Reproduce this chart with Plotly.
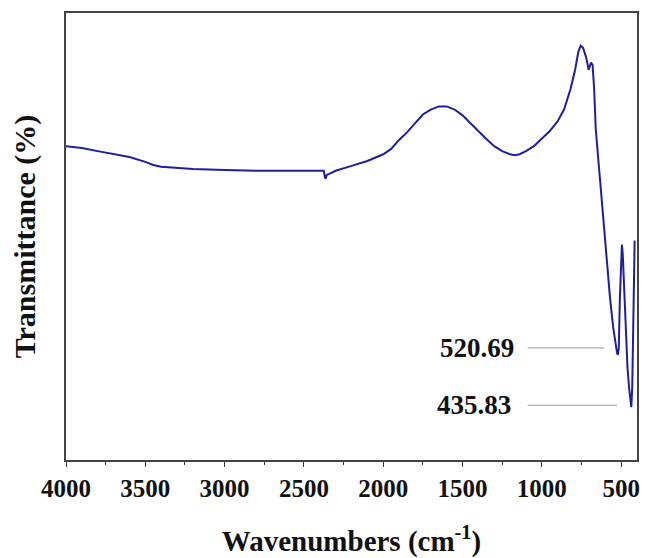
import plotly.graph_objects as go

wavenumber = [4000, 3900, 3800, 3700, 3600, 3500, 3450, 3400, 3300, 3200, 3000, 2800, 2600,
              2400, 2375, 2365, 2355, 2340, 2300, 2200, 2100, 2000, 1950, 1900, 1850, 1800,
              1750, 1700, 1650, 1600, 1550, 1500, 1450, 1400, 1350, 1300, 1250, 1200, 1170,
              1140, 1100, 1050, 1000, 950, 900, 860, 820, 790, 770, 755, 740, 720, 705, 690,
              680, 670, 660, 650, 630, 610, 590, 570, 550, 535, 525, 520, 515, 508, 500, 495,
              490, 480, 470, 460, 450, 440, 436, 430, 425, 420, 415, 410]
transmittance = [70.2, 69.8, 69.1, 68.4, 67.8, 66.7, 66.0, 65.6, 65.3, 65.1, 64.9, 64.7, 64.7,
                 64.7, 64.7, 62.9, 63.8, 64.0, 64.7, 65.8, 66.9, 68.4, 69.6, 71.6, 73.3, 75.3,
                 77.3, 78.4, 79.1, 79.1, 78.4, 77.1, 75.3, 73.6, 71.8, 70.2, 69.1, 68.4, 68.2,
                 68.4, 69.1, 70.2, 71.8, 73.6, 75.8, 78.4, 82.9, 87.3, 91.3, 92.7, 92.2, 90.0,
                 87.3, 88.9, 88.4, 82.9, 74.0, 69.6, 62.9, 54.0, 44.0, 36.2, 29.6, 25.6, 23.8,
                 23.6, 25.1, 36.2, 46.2, 48.2, 46.2, 36.2, 27.3, 20.7, 16.2, 12.9, 11.8, 16.2,
                 29.6, 45.1, 48.9, 48.9]

peak_labels = ["520.69", "435.83"]
peak_label_x = [1164, 1183]
peak_label_y = [25.1, 12.2]
peak_line_x0 = [1089, 1089]
peak_line_x1 = [606, 525]

tick_vals = [4000, 3500, 3000, 2500, 2000, 1500, 1000, 500]
tick_text = ["<b>%d</b>" % v for v in tick_vals]

FONT = "Liberation Serif"

fig = go.Figure()
fig.add_trace(go.Scatter(x=wavenumber, y=transmittance, mode="lines",
                         line=dict(color="#1f1f9c", width=2), showlegend=False))

for lab, lx, ly, x0, x1 in zip(peak_labels, peak_label_x, peak_label_y, peak_line_x0, peak_line_x1):
    fig.add_annotation(x=lx, y=ly, text="<b>%s</b>" % lab, showarrow=False, xanchor="right",
                       yanchor="middle", font=dict(family=FONT, size=27, color="#111"))
    fig.add_shape(type="line", x0=x0, x1=x1, y0=ly, y1=ly, xref="x", yref="y",
                  line=dict(color="#b0b0b0", width=1.2))

fig.update_layout(
    width=646, height=558,
    margin=dict(l=66, r=6, t=13, b=95),
    paper_bgcolor="white", plot_bgcolor="white",
    font=dict(family=FONT, color="#111"),
    xaxis=dict(range=[4000, 400], tickvals=tick_vals, ticktext=tick_text, ticks="outside",
               ticklen=5, tickwidth=1.2,
               tickcolor="#333", showline=True, linecolor="#444", linewidth=1.5, mirror=True,
               showgrid=False, zeroline=False,
               tickfont=dict(family=FONT, size=25, color="#111"),
               minor=dict(dtick=250, tick0=0, ticks="outside", ticklen=3, tickcolor="#333", showgrid=False),
               title=dict(text="<b>Wavenumbers (cm<sup>-1</sup>)</b>", standoff=30,
                          font=dict(family=FONT, size=29, color="#111"))),
    yaxis=dict(range=[0, 100], showticklabels=False, ticks="", showline=True, linecolor="#444",
               linewidth=1.5, mirror=True, showgrid=False, zeroline=False,
               title=dict(text="<b>Transmittance (%)</b>", standoff=20,
                          font=dict(family=FONT, size=30, color="#111"))),
)

fig.write_html("out.html")
